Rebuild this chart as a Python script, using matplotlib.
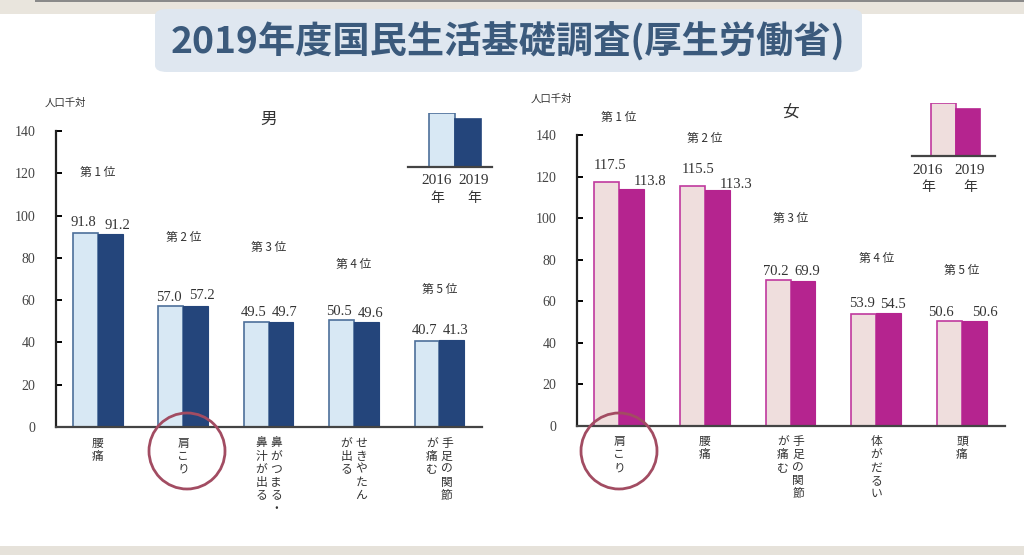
import numpy as np
import matplotlib.pyplot as plt
from matplotlib.patches import FancyBboxPatch, Ellipse, Rectangle

# data
years = ["2016", "2019"]
rank_labels = ["第 1 位", "第 2 位", "第 3 位", "第 4 位", "第 5 位"]

men_items = [["腰痛"], ["肩こり"], ["鼻がつまる・", "鼻汁が出る"], ["せきやたん", "が出る"], ["手足の関節", "が痛む"]]
men_2016 = [91.8, 57.0, 49.5, 50.5, 40.7]
men_2019 = [91.2, 57.2, 49.7, 49.6, 41.3]

women_items = [["肩こり"], ["腰痛"], ["手足の関節", "が痛む"], ["体がだるい"], ["頭痛"]]
women_2016 = [117.5, 115.5, 70.2, 53.9, 50.6]
women_2019 = [113.8, 113.3, 69.9, 54.5, 50.6]

# where the rank captions sit (in data units of each panel)
men_rank_y = [120.6, 89.4, 85.1, 77.0, 64.8]
women_rank_y = [148.6, 138.5, 99.6, 80.8, 75.0]
legend_heights = [1.0, 0.88]

W, H = 1024, 555
JP = ['Noto Sans CJK JP', 'DejaVu Sans']
NUM = ['Liberation Serif', 'DejaVu Serif']
TXT = '#333333'

fig = plt.figure(figsize=(W / 100, H / 100), dpi=100)
fig.patch.set_facecolor('white')


def fx(px):
    return px / W


def fy(py):
    return 1 - py / H


# background bands
fig.add_artist(Rectangle((0, fy(14)), 1, 14 / H, transform=fig.transFigure,
                         facecolor='#e9e5dd', edgecolor='none', zorder=0))
fig.add_artist(Rectangle((fx(35), fy(2)), 1, 2 / H, transform=fig.transFigure,
                         facecolor='#8a8a8a', edgecolor='none', zorder=0))
fig.add_artist(Rectangle((0, 0), 1, 9 / H, transform=fig.transFigure,
                         facecolor='#e6e2da', edgecolor='none', zorder=0))

# title box
fig.add_artist(FancyBboxPatch((fx(155), fy(72)), fx(862) - fx(155), 63 / H,
                              boxstyle="round,pad=0,rounding_size=0.012",
                              transform=fig.transFigure, facecolor='#dfe7f0',
                              edgecolor='none', zorder=1))
fig.text(fx(508), fy(41), "2019年度国民生活基礎調査(厚生労働省)", ha='center', va='center',
         fontsize=26.8, fontweight='bold', color='#3b5a7c', family=JP, zorder=2)


def panel(x0, x1, ytop, y0, items, v16, v19, rank_y, light, dark, edge_light, title, title_y,
          label_shift):
    ax = fig.add_axes([fx(x0), fy(y0), fx(x1) - fx(x0), (y0 - ytop) / H])
    ax.set_facecolor('none')
    n = len(items)
    x = np.arange(n)
    bw = 0.29
    ax.bar(x - bw / 2, v16, bw, color=light, edgecolor=edge_light, linewidth=1.2, zorder=2)
    ax.bar(x + bw / 2, v19, bw, color=dark, edgecolor=dark, linewidth=0.8, zorder=2)
    ax.set_xlim(-0.49, 4.5)
    ax.set_ylim(0, 140)
    for s in ['top', 'right']:
        ax.spines[s].set_visible(False)
    ax.spines['left'].set_linewidth(1.6)
    ax.spines['bottom'].set_linewidth(1.6)
    ax.spines['left'].set_color('#222222')
    ax.spines['bottom'].set_color('#444444')
    ax.set_xticks([])
    ax.set_yticks(range(0, 141, 20))
    ax.tick_params(axis='y', direction='in', length=4, width=1.4, pad=15, labelsize=10,
                   labelcolor='#444444')
    for t in ax.get_yticklabels():
        t.set_family(NUM)
    for i in range(n):
        dx16, dy16, dx19, dy19 = label_shift[i]
        ax.text(i - 0.17 + dx16, v16[i] + 4.3 + dy16, f"{v16[i]:.1f}", ha='center', va='center',
                fontsize=10.5, color=TXT, family=NUM, clip_on=False)
        ax.text(i + 0.19 + dx19, v19[i] + 4.3 + dy19, f"{v19[i]:.1f}", ha='center', va='center',
                fontsize=10.5, color=TXT, family=NUM, clip_on=False)
        ax.text(i, rank_y[i], rank_labels[i], ha='center', va='center', fontsize=8.5,
                color=TXT, family=JP, clip_on=False)
        # vertical category labels, columns right to left
        cols = items[i]
        k = len(cols)
        for j, c in enumerate(cols):
            off = (k - 1) / 2 * 0.175 - j * 0.175
            ax.text(i + off, -4.5, "\n".join(c), ha='center', va='top', fontsize=8.5,
                    color=TXT, family=JP, linespacing=1.0, clip_on=False)
    ax.text(2.0, title_y, title, ha='center', va='center', fontsize=12, color=TXT,
            family=JP, clip_on=False)
    return ax


men_shift = [(0, 0.5, 0.04, 0), (0, 0, 0.03, 0.5), (0, 0.5, 0, 0), (0, 0, 0, 0), (0, 0.5, 0, 0)]
women_shift = [(0.07, 3.3, 0.17, -0.7), (0.09, 3.8, 0.18, -1.2), (0, 0, 0, 0.3), (0, 0.9, 0, -0.2),
               (-0.08, -0.1, 0.07, -0.5)]

panel(56, 482, 131, 427, men_items, men_2016, men_2019, men_rank_y,
      '#d8e8f4', '#24457b', '#4d6f9a', "男", 145.7, men_shift)
panel(577, 1005, 135, 426, women_items, women_2016, women_2019, women_rank_y,
      '#efdedd', '#b5248f', '#c0399e', "女", 150.6, women_shift)

# unit labels
fig.text(fx(65), fy(103), "人口千対", ha='center', va='center', fontsize=7.5, color=TXT, family=JP)
fig.text(fx(551), fy(99), "人口千対", ha='center', va='center', fontsize=7.5, color=TXT, family=JP)


def legend_box(x0, x1, ytop, ybase, xl, xr, light, dark, edge_light, lab_x):
    lx = fig.add_axes([fx(x0), fy(ybase), fx(x1) - fx(x0), (ybase - ytop) / H])
    lx.bar([0, 1], legend_heights, 1.0, color=[light, dark], edgecolor=[edge_light, dark],
           linewidth=1.2)
    lx.set_xlim(xl, xr)
    lx.set_ylim(0, 1)
    lx.axis('off')
    lx.axhline(0, color='#444444', linewidth=1.6, clip_on=False)
    for yx, px in zip(years, lab_x):
        fig.text(fx(px), fy(ybase + 14), yx, ha='center', va='center', fontsize=11,
                 color=TXT, family=NUM)
        fig.text(fx(px), fy(ybase + 31), "年", ha='center', va='center', fontsize=10,
                 color=TXT, family=JP)


legend_box(408, 492, 113, 167, -1.31, 1.92, '#d8e8f4', '#24457b', '#4d6f9a', [437, 474])
legend_box(912, 995, 103, 156, -1.28, 2.11, '#efdedd', '#b5248f', '#c0399e', [928, 970])

# highlight circles around 肩こり
for cx in [187, 619]:
    fig.add_artist(Ellipse((fx(cx), fy(451)), 76 / W, 76 / H, transform=fig.transFigure,
                           facecolor='none', edgecolor='#a24c62', linewidth=2.0, zorder=5))

fig.savefig('out.png', dpi=100)
